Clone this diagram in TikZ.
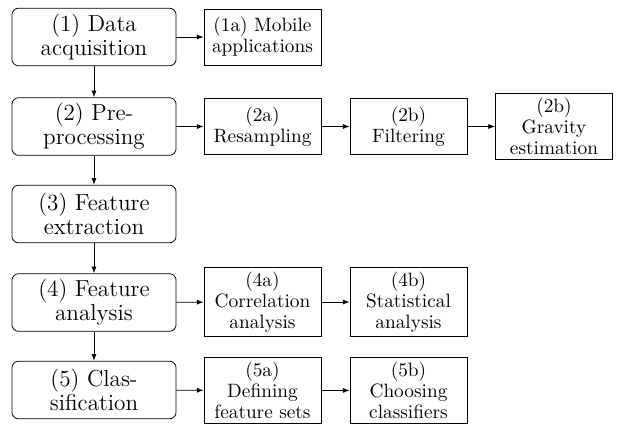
\documentclass[tikz,border=0pt]{standalone}
\usetikzlibrary{arrows.meta}
\tikzset{
	mainbox/.style={draw, rounded corners=3.5pt, align=center, minimum width=2.99cm, minimum height=1.05cm, inner sep=2pt, font=\fontsize{12}{12.4}\selectfont},
	subbox/.style={draw, align=center, minimum width=2.13cm, minimum height=1.02cm, inner sep=2.2pt, font=\fontsize{10}{11}\selectfont},
	flow/.style={-{Latex[length=3.5pt,width=2.6pt]}}
}
\begin{document}
\begin{tikzpicture}
			\useasboundingbox (0,0) rectangle (11.327,-7.757);
			\node [mainbox] (acq) at (1.712,-0.674) {(1) Data\\acquisition};
			\node [mainbox] (pre) at (1.712,-2.304) {(2) Pre-\\processing};
			\node [mainbox] (ext) at (1.712,-3.897) {(3) Feature\\extraction};
			\node [mainbox] (ana) at (1.712,-5.509) {(4) Feature\\analysis};
			\node [mainbox] (cla) at (1.712,-7.102) {(5) Clas-\\sification};
			\node [subbox] (mob) at (4.780,-0.674) {(1a) Mobile\\applications};
			\node [subbox] (res) at (4.780,-2.304) {(2a)\\Resampling};
			\node [subbox] (fil) at (7.439,-2.304) {(2b)\\Filtering};
			\node [subbox] (gra) at (10.088,-2.304) {(2b)\\Gravity\\estimation};
			\node [subbox] (cor) at (4.780,-5.500) {(4a)\\Correlation\\analysis};
			\node [subbox] (sta) at (7.439,-5.500) {(4b)\\Statistical\\analysis};
			\node [subbox] (def) at (4.780,-7.110) {(5a)\\Defining\\feature sets};
			\node [subbox] (cho) at (7.439,-7.110) {(5b)\\Choosing\\classifiers};
			\draw [flow] (acq) -- (pre);
			\draw [flow] (pre) -- (ext);
			\draw [flow] (ext) -- (ana);
			\draw [flow] (ana) -- (cla);
			\draw [flow] (acq) -- (mob);
			\draw [flow] (pre) -- (res);
			\draw [flow] (res) -- (fil);
			\draw [flow] (fil) -- (gra);
			\draw [flow] (ana) -- (cor);
			\draw [flow] (cor) -- (sta);
			\draw [flow] (cla) -- (def);
			\draw [flow] (def) -- (cho);
		\end{tikzpicture}
\end{document}
